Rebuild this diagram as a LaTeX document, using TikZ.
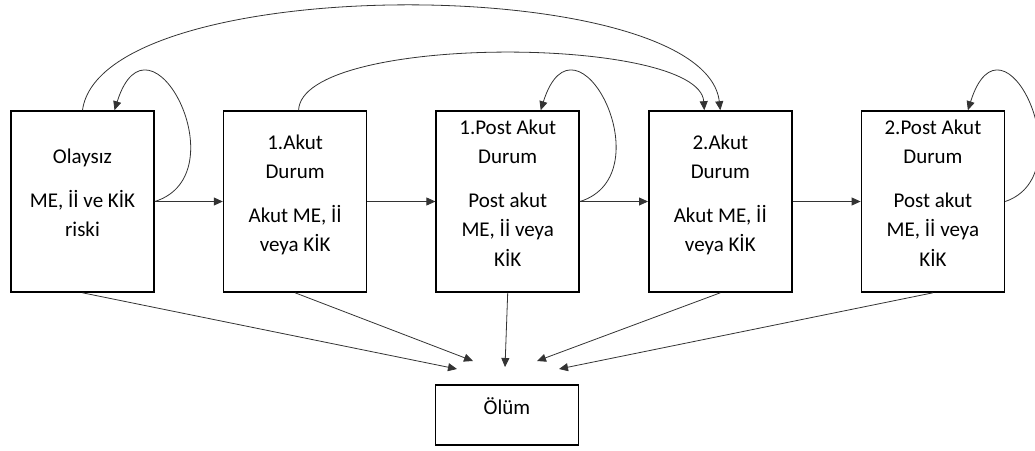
\documentclass[tikz,border=0pt]{standalone}
\usepackage{fontspec}
\setmainfont{Carlito}
\usetikzlibrary{positioning,arrows.meta}

\begin{document}
\begin{tikzpicture}[x=1pt,y=1pt,
	durum/.style={draw,line width=1.6pt,minimum width=143pt,minimum height=181pt,align=center,inner sep=0pt,text depth=17pt,font=\fontsize{21}{29.5}\selectfont},
	gecis/.style={->,line width=0.8pt,draw=black!80},
	>={Triangle[length=9pt,width=8pt]}]
	\useasboundingbox (0,0) rectangle (1035,-450);

	\node[durum] (olay) at (82.5,-201.5) {Olaysız\\[14pt]ME, İİ ve KİK\\riski};
	\node[durum,right=68pt of olay] (akut1) {1.Akut\\Durum\\[14pt]Akut ME, İİ\\veya KİK};
	\node[durum,right=68pt of akut1] (post1) {1.Post Akut\\Durum\\[14pt]Post akut\\ME, İİ veya\\KİK};
	\node[durum,right=68pt of post1] (akut2) {2.Akut\\Durum\\[14pt]Akut ME, İİ\\veya KİK};
	\node[durum,right=68pt of akut2] (post2) {2.Post Akut\\Durum\\[14pt]Post akut\\ME, İİ veya\\KİK};
	\node[durum,minimum height=60pt] (olum) at (507,-415) {Ölüm};

	% ileri gecisler
	\draw[gecis] (olay) -- (akut1);
	\draw[gecis] (akut1) -- (post1);
	\draw[gecis] (post1) -- (akut2);
	\draw[gecis] (akut2) -- (post2);

	% durumda kalma
	\draw[gecis] (olay.east) .. controls +(86,27) and +(35,111) .. ([xshift=32pt]olay.north);
	\draw[gecis] (post1.east) .. controls +(86,27) and +(35,111) .. ([xshift=33pt]post1.north);
	\draw[gecis] (post2.east) .. controls +(80,27) and +(35,111) .. ([xshift=35pt]post2.north);

	% 2.akut duruma donus
	\draw[gecis] (olay.north) .. controls +(19,140) and +(-16,138) .. (akut2.north);
	\draw[gecis] ([xshift=3.5pt]akut1.north) .. controls +(3,77) and +(-5,75) .. ([xshift=-16pt]akut2.north);

	% olum
	\coordinate (o1) at (457,-369);
	\coordinate (o2) at (473,-361);
	\coordinate (o3) at (505,-367);
	\coordinate (o4) at (537,-361);
	\coordinate (o5) at (559,-369);
	\draw[gecis] (olay.south) -- (o1);
	\draw[gecis] (akut1.south) -- (o2);
	\draw[gecis] (post1.south) -- (o3);
	\draw[gecis] (akut2.south) -- (o4);
	\draw[gecis] (post2.south) -- (o5);

\end{tikzpicture}
\end{document}
